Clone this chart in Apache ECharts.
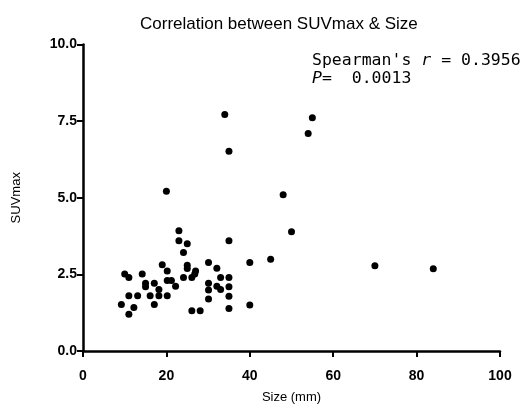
<!DOCTYPE html>
<html>
<head>
<meta charset="utf-8">
<script src="https://cdn.jsdelivr.net/npm/echarts@6/dist/echarts.min.js"></script>
<style>html,body{margin:0;padding:0;background:#fff;}#c{width:521px;height:410px;}</style>
</head>
<body>
<div id="c"></div>
<script>
const sizeMm = [9.2, 11, 12.2, 10, 11, 14.2, 11, 13.1, 16.1, 15, 15, 17.1, 17.1, 18.2, 18.2, 20.2, 20.2, 21.2, 19, 20.2, 22.2, 23, 23, 24.1, 25, 25, 25, 27, 26.8, 24.1, 26.1, 30.1, 32.1, 33, 35, 30.1, 30.1, 32.1, 33, 35, 35, 30.1, 35, 26.1, 28.1, 35, 40, 40, 20, 34, 35, 55, 54, 48, 50, 45, 70, 84];
const suvMax = [1.52, 1.2, 1.42, 2.51, 2.4, 2.51, 1.8, 1.8, 1.8, 2.21, 2.1, 2.21, 1.52, 2.01, 1.8, 1.8, 2.3, 2.3, 2.81, 2.61, 2.11, 3.92, 3.6, 3.21, 3.5, 2.8, 2.69, 2.61, 2.51, 2.4, 2.4, 2.89, 2.7, 2.4, 2.4, 2.21, 1.99, 2.11, 2.01, 2.1, 1.79, 1.7, 1.39, 1.31, 1.31, 3.6, 2.89, 1.5, 5.21, 7.72, 6.52, 7.61, 7.1, 5.1, 3.89, 2.99, 2.78, 2.68];
const xTicks = [0, 20, 40, 60, 80, 100];
const yTicks = [0, 2.5, 5, 7.5, 10];
const titleText = 'Correlation between SUVmax & Size';
const statR = '0.3956';
const statP = '0.0013';

const points = sizeMm.map((x, i) => [x, suvMax[i]]);
const chart = echarts.init(document.getElementById('c'), null, {renderer: 'canvas'});
const axisFont = {fontFamily: 'Liberation Sans, Arial, sans-serif', color: '#000'};
const statFont = '16.5px "DejaVu Sans Mono"';
chart.setOption({
  backgroundColor: '#fff',
  animation: false,
  title: {
    text: titleText, left: 135, top: 11,
    textStyle: {fontFamily: 'Liberation Sans, Arial, sans-serif', fontSize: 17, fontWeight: 'normal', color: '#000'}
  },
  grid: {left: 83, right: 21, top: 44.5, bottom: 59},
  xAxis: {
    type: 'value', min: xTicks[0], max: xTicks[xTicks.length - 1], interval: 20,
    name: 'Size (mm)', nameLocation: 'middle', nameGap: 40,
    nameTextStyle: Object.assign({fontSize: 13}, axisFont),
    axisLine: {show: true, onZero: false, lineStyle: {color: '#000', width: 2.5}},
    axisTick: {show: true, length: 6, lineStyle: {color: '#000', width: 2}},
    axisLabel: Object.assign({fontSize: 14, margin: 18, fontWeight: 'bold'}, axisFont),
    splitLine: {show: false}
  },
  yAxis: {
    type: 'value', min: yTicks[0], max: yTicks[yTicks.length - 1], interval: 2.5,
    name: 'SUVmax', nameLocation: 'middle', nameGap: 60, nameRotate: 90,
    nameTextStyle: Object.assign({fontSize: 13}, axisFont),
    axisLine: {show: true, onZero: false, lineStyle: {color: '#000', width: 2.5}},
    axisTick: {show: true, length: 6, lineStyle: {color: '#000', width: 2}},
    axisLabel: Object.assign({fontSize: 14, margin: 6, fontWeight: 'bold', formatter: v => v.toFixed(1)}, axisFont),
    splitLine: {show: false}
  },
  graphic: [
    {type: 'text', left: 312, top: 52, style: {
      text: "Spearman's {i|r} = " + statR,
      rich: {i: {fontStyle: 'italic', fontFamily: 'DejaVu Sans Mono', fontSize: 16.5, fill: '#000'}},
      font: statFont, fill: '#000'}},
    {type: 'text', left: 312, top: 70, style: {
      text: '{i|P}=  ' + statP,
      rich: {i: {fontStyle: 'italic', fontFamily: 'DejaVu Sans Mono', fontSize: 16.5, fill: '#000'}},
      font: statFont, fill: '#000'}}
  ],
  series: [{
    type: 'scatter', data: points, symbol: 'circle', symbolSize: 7,
    itemStyle: {color: '#000', opacity: 1}
  }]
});
</script>
</body>
</html>
